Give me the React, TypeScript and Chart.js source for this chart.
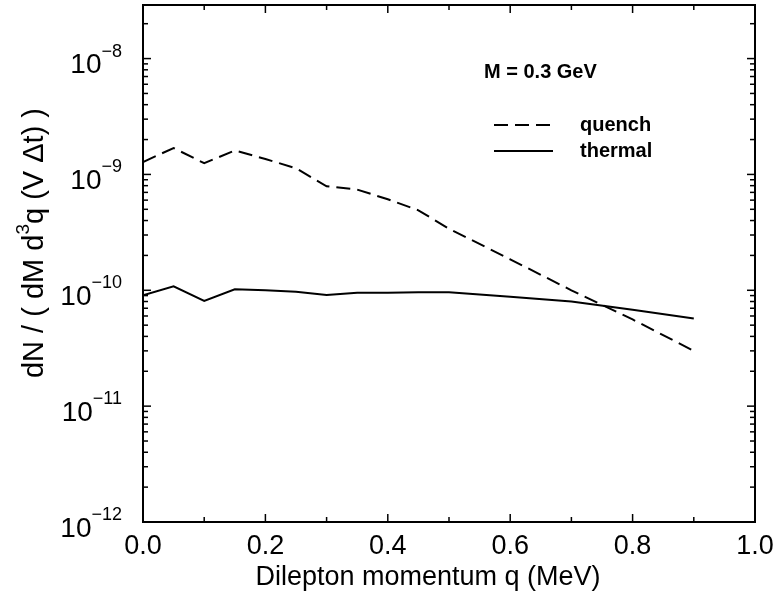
import React, { useEffect, useRef } from 'react';
import { Chart, registerables } from 'chart.js';

Chart.register(...registerables);

// ---- data ----
const qValues = [0, 0.05, 0.1, 0.15, 0.2, 0.25, 0.3, 0.35, 0.4, 0.45, 0.5, 0.6, 0.7, 0.8, 0.9];
const quenchRate = [1.28e-9, 1.69e-9, 1.25e-9, 1.61e-9, 1.36e-9, 1.13e-9, 7.9e-10, 7.4e-10, 6.1e-10, 4.9e-10, 3.4e-10, 1.85e-10, 1.0e-10, 5.6e-11, 3.0e-11];
const thermalRate = [9.06e-11, 1.08e-10, 8.1e-11, 1.02e-10, 1.0e-10, 9.7e-11, 9.1e-11, 9.5e-11, 9.5e-11, 9.6e-11, 9.6e-11, 8.8e-11, 8.0e-11, 6.8e-11, 5.7e-11];
const seriesNames = ['quench', 'thermal'];

const xMajorTicks = [0, 0.2, 0.4, 0.6, 0.8, 1.0];
const xTickLabels = ['0.0', '0.2', '0.4', '0.6', '0.8', '1.0'];
const xMinorTicks = [0.1, 0.3, 0.5, 0.7, 0.9];
const yDecadeExponents = [-12, -11, -10, -9, -8];
const yTickExponentLabels = ['\u221212', '\u221211', '\u221210', '\u22129', '\u22128'];
const yMin = 1e-12;
const yMax = 2.9e-8;

const annotationText = 'M = 0.3 GeV';
const xTitle = 'Dilepton momentum q (MeV)';
const yTitleParts = ['dN / ( dM d', '3', 'q (V \u0394t) )'];

const FONT = "'Liberation Sans', Arial, Helvetica, sans-serif";
const DASH = [14, 7];

const decorPlugin = {
  id: 'decor',
  afterDraw(chart: any) {
    const ctx = chart.ctx as CanvasRenderingContext2D;
    const { left, right, top, bottom } = chart.chartArea;
    const xs = chart.scales.x;
    const ys = chart.scales.y;
    ctx.save();
    ctx.strokeStyle = '#000';
    ctx.fillStyle = '#000';
    // frame
    ctx.lineWidth = 2;
    ctx.strokeRect(left, top, right - left, bottom - top);
    ctx.lineWidth = 1.5;
    const tick = (x1: number, y1: number, x2: number, y2: number) => {
      ctx.beginPath();
      ctx.moveTo(x1, y1);
      ctx.lineTo(x2, y2);
      ctx.stroke();
    };
    xMajorTicks.forEach((v) => {
      const px = xs.getPixelForValue(v);
      tick(px, bottom, px, bottom - 8);
      tick(px, top, px, top + 8);
    });
    xMinorTicks.forEach((v) => {
      const px = xs.getPixelForValue(v);
      tick(px, bottom, px, bottom - 5);
      tick(px, top, px, top + 5);
    });
    for (let e = -12; e <= -8; e++) {
      for (let m = 1; m <= 9; m++) {
        const v = m * Math.pow(10, e);
        if (v < yMin * 0.999 || v > yMax) continue;
        const py = ys.getPixelForValue(v);
        const len = m === 1 ? 8 : 5;
        tick(left, py, left + len, py);
        tick(right, py, right - len, py);
      }
    }
    // x tick labels
    ctx.font = `27px ${FONT}`;
    ctx.textAlign = 'center';
    ctx.textBaseline = 'middle';
    xMajorTicks.forEach((v, i) => {
      ctx.fillText(xTickLabels[i], xs.getPixelForValue(v), bottom + 25);
    });
    // y tick labels with superscripts
    yDecadeExponents.forEach((e, i) => {
      const py = ys.getPixelForValue(Math.pow(10, e));
      ctx.font = `18px ${FONT}`;
      ctx.textAlign = 'right';
      ctx.textBaseline = 'middle';
      const expLabel = yTickExponentLabels[i];
      const ew = ctx.measureText(expLabel).width;
      const rightEdge = left - 21;
      ctx.fillText(expLabel, rightEdge, py - 7);
      ctx.font = `28px ${FONT}`;
      ctx.fillText('10', rightEdge - ew, py + 7);
    });
    // x title
    ctx.font = `27px ${FONT}`;
    ctx.textAlign = 'center';
    ctx.textBaseline = 'middle';
    ctx.fillText(xTitle, 428, bottom + 56);
    // y title (rotated)
    ctx.save();
    ctx.translate(35, 243);
    ctx.rotate(-Math.PI / 2);
    ctx.textAlign = 'left';
    ctx.textBaseline = 'middle';
    ctx.font = `29px ${FONT}`;
    const w0 = ctx.measureText(yTitleParts[0]).width;
    const w2 = ctx.measureText(yTitleParts[2]).width;
    ctx.font = `19px ${FONT}`;
    const w1 = ctx.measureText(yTitleParts[1]).width;
    const total = w0 + w1 + w2;
    const x0 = -total / 2;
    ctx.font = `29px ${FONT}`;
    ctx.fillText(yTitleParts[0], x0, 0);
    ctx.font = `19px ${FONT}`;
    ctx.fillText(yTitleParts[1], x0 + w0, -11);
    ctx.font = `29px ${FONT}`;
    ctx.fillText(yTitleParts[2], x0 + w0 + w1, 0);
    ctx.restore();
    // annotation
    ctx.font = `bold 20px ${FONT}`;
    ctx.textAlign = 'left';
    ctx.textBaseline = 'middle';
    ctx.fillText(annotationText, 484, 72);
    // legend
    const legendRows = [
      { name: seriesNames[0], dash: DASH, y: 125 },
      { name: seriesNames[1], dash: [] as number[], y: 151 },
    ];
    legendRows.forEach((r) => {
      ctx.lineWidth = 2;
      ctx.setLineDash(r.dash);
      ctx.beginPath();
      ctx.moveTo(494, r.y);
      ctx.lineTo(553, r.y);
      ctx.stroke();
      ctx.setLineDash([]);
      ctx.font = `bold 20px ${FONT}`;
      ctx.fillText(r.name, 580, r.y);
    });
    ctx.restore();
  },
};

export default function App() {
  const canvasRef = useRef<HTMLCanvasElement | null>(null);
  useEffect(() => {
    document.body.style.margin = '0';
    const canvas = canvasRef.current;
    if (!canvas) return;
    const chart = new Chart(canvas, {
      type: 'line',
      data: {
        labels: qValues,
        datasets: [
          {
            label: seriesNames[0],
            data: qValues.map((q, i) => ({ x: q, y: quenchRate[i] })),
            borderColor: '#000',
            borderWidth: 2,
            borderDash: DASH,
            pointRadius: 0,
            tension: 0,
            fill: false,
          },
          {
            label: seriesNames[1],
            data: qValues.map((q, i) => ({ x: q, y: thermalRate[i] })),
            borderColor: '#000',
            borderWidth: 2,
            pointRadius: 0,
            tension: 0,
            fill: false,
          },
        ],
      },
      options: {
        responsive: false,
        animation: false,
        devicePixelRatio: 1,
        layout: { padding: { top: 5, right: 21, left: 0, bottom: 0 } },
        plugins: {
          legend: { display: false },
          tooltip: { enabled: false },
          title: { display: false },
        },
        scales: {
          x: {
            type: 'linear',
            min: 0,
            max: 1,
            grid: { display: false, drawTicks: false },
            border: { display: false },
            ticks: { display: false },
            afterFit: (s: any) => {
              s.height = 72;
            },
          },
          y: {
            type: 'logarithmic',
            min: yMin,
            max: yMax,
            grid: { display: false, drawTicks: false },
            border: { display: false },
            ticks: { display: false },
            afterFit: (s: any) => {
              s.width = 143;
            },
          },
        },
      },
      plugins: [decorPlugin],
    });
    return () => chart.destroy();
  }, []);
  return (
    <div style={{ width: 776, height: 594 }}>
      <canvas ref={canvasRef} width={776} height={594} style={{ display: 'block' }} />
    </div>
  );
}
